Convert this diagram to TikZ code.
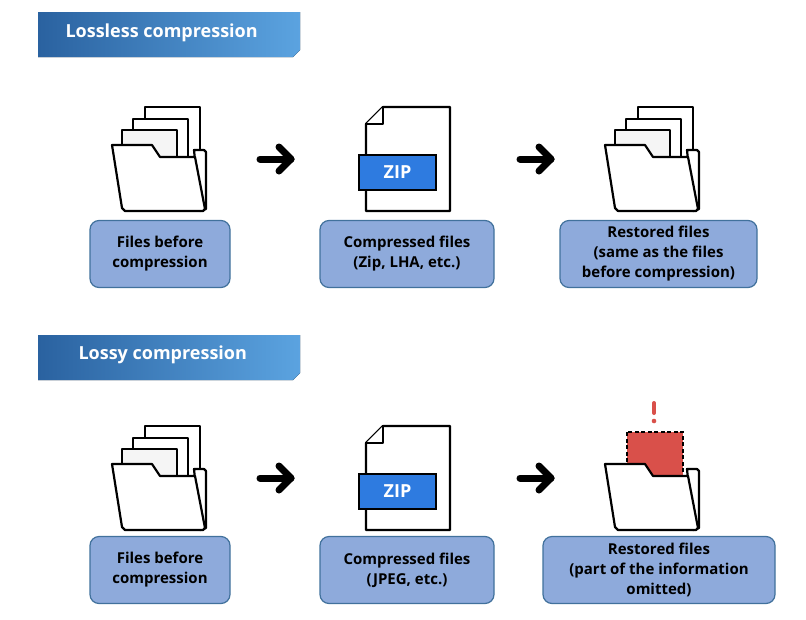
\documentclass[tikz,border=0pt]{standalone}
\usepackage{fontspec}
\setmainfont{Open Sans}
\usetikzlibrary{arrows.meta,calc}
\definecolor{boxfill}{HTML}{8EAADB}
\definecolor{boxline}{HTML}{41719C}
\definecolor{hdark}{HTML}{2A62A0}
\definecolor{hlight}{HTML}{5BA3E0}
\definecolor{zipblue}{HTML}{2E7BE0}
\definecolor{lossred}{HTML}{D9504A}
\tikzset{
  lbl/.style={draw=boxline,line width=1.2pt,fill=boxfill,rounded corners=9pt,align=center,font=\bfseries\fontsize{15}{20}\selectfont,inner sep=0pt},
  hdr/.style={left color=hdark,right color=hlight,draw=none},
  icon/.style={line width=2.2pt,line join=round,draw=black},
  bigarrow/.style={line width=7pt,line cap=round,line join=round},
}
\newcommand{\papers}{%
  \draw[icon,fill=white] (145,107) rectangle (200,170);
  \draw[icon,fill=white] (133,119) rectangle (188,170);
  \draw[icon,fill=white!96!black] (122,130) rectangle (177,170);}
\newcommand{\folder}{%
  \draw[icon,fill=white] (194,150) -- (204,150) -- (206,152) -- (206,209) -- (200,211) -- cycle;
  \draw[icon,fill=white] (112,145) -- (152,145) -- (160,157) -- (195,157) -- (205,209) -- (203,211) -- (125,211) -- (122,208) -- cycle;}
\newcommand{\zipfile}{%
  \draw[icon,fill=white] (383,107) -- (450,107) -- (450,211) -- (366,211) -- (366,124) -- cycle;
  \draw[icon,fill=white] (366,124) -- (383,124) -- (383,107);
  \draw[line width=1.5pt,fill=zipblue] (359,155) rectangle (436,190);
  \node[text=white,font=\bfseries\fontsize{18}{18}\selectfont] at (397.5,172.5) {ZIP};}
\begin{document}
\begin{tikzpicture}[x=1pt,y=-1pt]
\useasboundingbox (0,0) rectangle (806,619);
% headers
\fill[hdr] (38,12) -- (300,12) -- (300,50) -- (293,57) -- (38,57) -- cycle;
\node[anchor=west,text=white,font=\bfseries\fontsize{18}{18}\selectfont] (h1) at (62,33) {Lossless compression};
\fill[hdr] (38,335) -- (300,335) -- (300,373) -- (293,380) -- (38,380) -- cycle;
\node[anchor=west,text=white,font=\bfseries\fontsize{18}{18}\selectfont] (h2) at (75,355) {Lossy compression};
% row 1 icons
\papers \folder
\zipfile
\begin{scope}[xshift=493pt]\papers \folder\end{scope}
% row 2 icons
\begin{scope}[yshift=-319pt]\papers \folder \zipfile\end{scope}
\begin{scope}[xshift=493pt,yshift=-319pt]
  \draw[line width=2pt,dash pattern=on 4pt off 2.5pt,fill=lossred] (134,113) rectangle (190,157);
  \folder
\end{scope}
\draw[line width=4pt,line cap=round,draw=lossred] (654,403) -- (654,413);
\fill[lossred] (654,421) circle (2.3pt);
% arrows
\coordinate (a1s) at (260,159); \coordinate (a1e) at (291,159);
\coordinate (a2s) at (520,159); \coordinate (a2e) at (551,159);
\coordinate (a3s) at (260,478); \coordinate (a3e) at (291,478);
\coordinate (a4s) at (520,478); \coordinate (a4e) at (551,478);
\foreach \s/\e in {a1s/a1e,a2s/a2e,a3s/a3e,a4s/a4e}{
  \draw[bigarrow] (\s) -- (\e);
  \draw[bigarrow] ($(\e)+(-12,-12)$) -- (\e) -- ($(\e)+(-12,12)$);
}
% labels
\node[lbl,minimum width=140pt,minimum height=67pt] (b1) at (160,254) {Files before\\compression};
\node[lbl,minimum width=174pt,minimum height=67pt] (b2) at (407,254) {Compressed files\\(Zip, LHA, etc.)};
\node[lbl,minimum width=197pt,minimum height=67pt] (b3) at (658.5,254) {Restored files\\(same as the files\\before compression)};
\node[lbl,minimum width=140pt,minimum height=67pt] (b4) at (160,570) {Files before\\compression};
\node[lbl,minimum width=174pt,minimum height=67pt] (b5) at (407,570) {Compressed files\\(JPEG, etc.)};
\node[lbl,minimum width=232pt,minimum height=67pt] (b6) at (659,570) {Restored files\\(part of the information\\omitted)};
\end{tikzpicture}
\end{document}
